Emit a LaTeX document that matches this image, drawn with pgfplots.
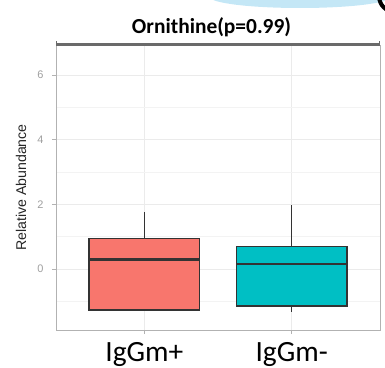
\documentclass[border=0pt]{standalone}
\usepackage{pgfplots}
\pgfplotsset{compat=1.18}
\usepgfplotslibrary{statistics}
\usepackage{fontspec}
\setmainfont{Liberation Sans}
\newfontfamily\carlito{Carlito}
\definecolor{redbox}{HTML}{F8766D}
\definecolor{cyanbox}{HTML}{00BFC4}
\definecolor{boxline}{HTML}{333333}
\definecolor{gridmaj}{HTML}{EBEBEB}
\definecolor{gridmin}{HTML}{F3F3F3}
\definecolor{blob}{HTML}{C4E7F6}
\definecolor{topline}{HTML}{6A6A6A}
\begin{document}
\begin{tikzpicture}
\useasboundingbox (0bp,0bp) rectangle (385bp,-368bp);
\begin{scope}
\clip (0bp,0bp) rectangle (385bp,-368bp);
\fill[blob] (300bp,3bp) ellipse [x radius=90bp, y radius=11bp];
\draw[black, line width=4bp] (395bp,4bp) circle [radius=16bp];
\end{scope}
\begin{axis}[
  at={(56bp,-330bp)}, anchor=south west,
  scale only axis, width=324bp, height=285bp,
  xmin=0.4, xmax=2.6, ymin=-1.887, ymax=6.93,
  xtick={1,2}, xticklabels={IgGm+,IgGm-},
  ytick={0,2,4,6}, minor ytick={-1,1,3,5},
  grid=both,
  major grid style={gridmaj, line width=1bp},
  minor grid style={gridmin, line width=0.6bp},
  axis line style={gray!60, line width=1bp},
  tick style={gray!60, line width=0.8bp},
  tick align=outside, tick pos=left,
  major tick length=4bp, minor tick length=0bp,
  boxplot/draw direction=y,
  /pgf/number format/assume math mode=true,
  yticklabel style={font=\fontsize{11}{11}\selectfont, text=gray!75, xshift=-5bp},
  xticklabel style={font=\carlito\fontsize{29.5}{29.5}\selectfont, text=black, anchor=base, yshift=-27bp},
  ylabel={Relative Abundance},
  ylabel style={at={(axis description cs:-0.108,0.5)}, anchor=center, font=\fontsize{14.2}{15}\selectfont, text=black!85},
  title={\carlito\bfseries Ornithine(p=0.99)},
  title style={at={(axis description cs:0.48,1)}, anchor=center, yshift=12bp, font=\fontsize{21.5}{22}\selectfont},
]
\addplot[boxplot prepared={draw position=1, lower whisker=-1.27, lower quartile=-1.27, median=0.30, upper quartile=0.95, upper whisker=1.77, box extend=0.75, whisker extend=0},
  draw=boxline, fill=redbox, line width=1.3bp, solid, mark=none,
  boxplot/every median/.style={line width=2.6bp}] coordinates {};
\addplot[boxplot prepared={draw position=2, lower whisker=-1.32, lower quartile=-1.14, median=0.16, upper quartile=0.70, upper whisker=1.98, box extend=0.75, whisker extend=0},
  draw=boxline, fill=cyanbox, line width=1.3bp, solid, mark=none,
  boxplot/every median/.style={line width=2.6bp}] coordinates {};
\end{axis}
\draw[topline, line width=2.5bp] (56bp,-44.5bp) -- (380bp,-44.5bp);
\draw[topline, line width=1bp] (56.5bp,-46bp) -- (56.5bp,-41bp);
\draw[topline, line width=1bp] (379.5bp,-46bp) -- (379.5bp,-41bp);
\end{tikzpicture}
\end{document}
